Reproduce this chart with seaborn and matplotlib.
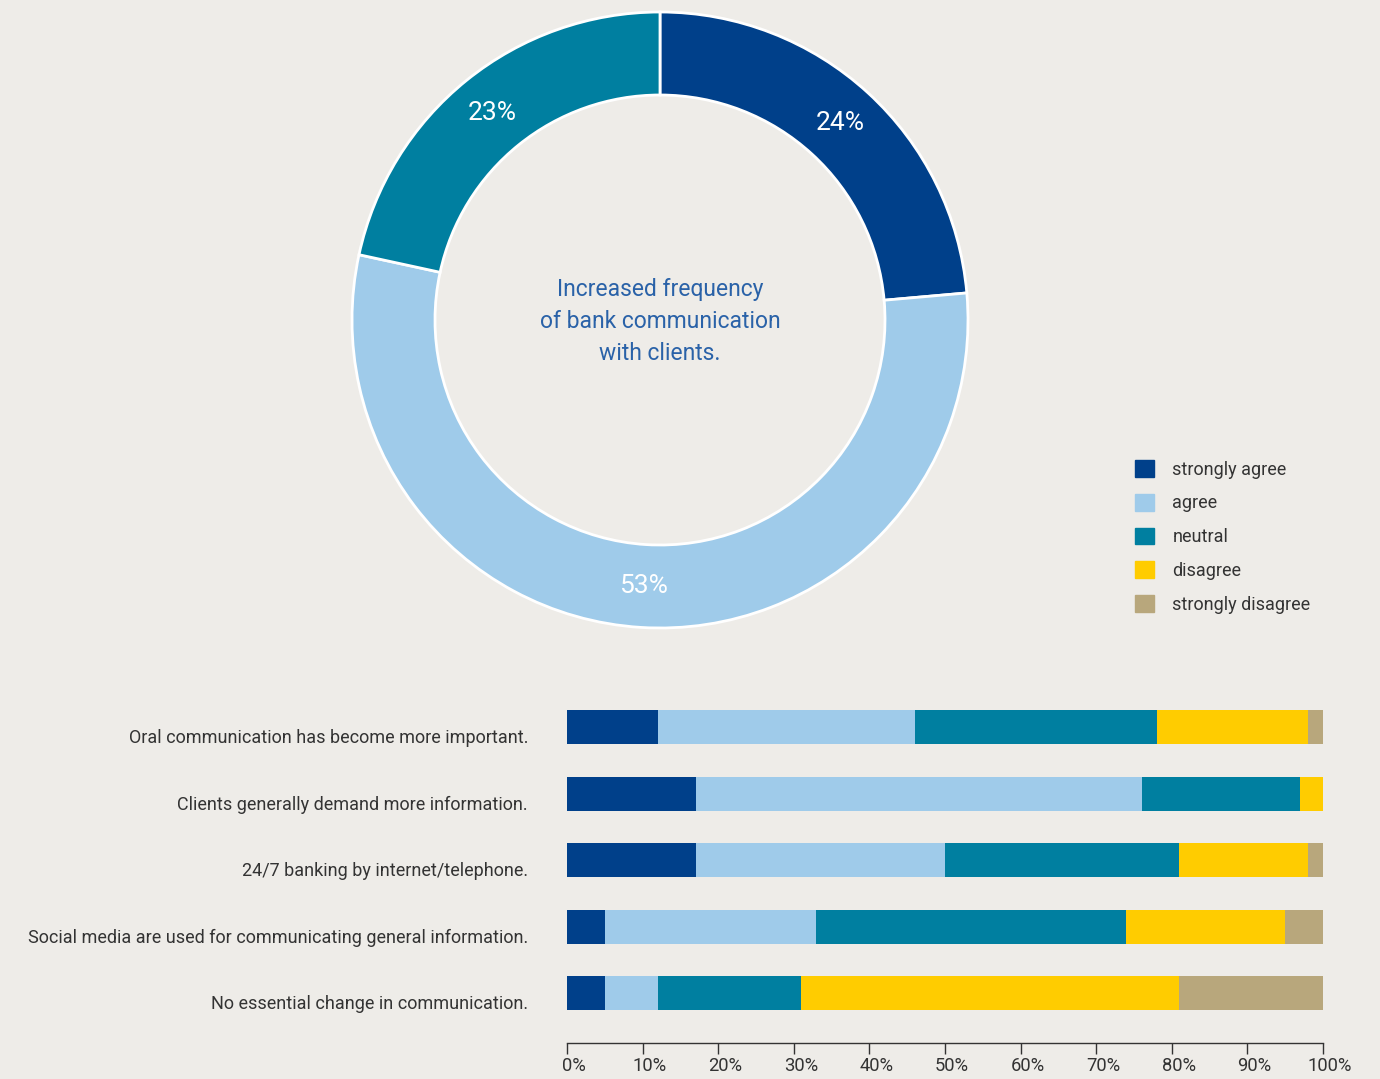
import matplotlib
matplotlib.use("Agg")
import matplotlib.pyplot as plt
import matplotlib.patches as mpatches
import matplotlib.transforms as mtransforms
import seaborn as sns
import pandas as pd
import numpy as np

# ---- data ----
donut_labels = ["strongly agree", "agree", "neutral"]
donut_shares = [23.6, 54.8, 21.6]          # ring geometry as drawn
donut_text = ["24%", "53%", "23%"]         # printed labels
donut_title = "Increased frequency\nof bank communication\nwith clients."

categories = [
    "Oral communication has become more important.",
    "Clients generally demand more information.",
    "24/7 banking by internet/telephone.",
    "Social media are used for communicating general information.",
    "No essential change in communication.",
]
levels = ["strongly agree", "agree", "neutral", "disagree", "strongly disagree"]
strongly_agree = [12, 17, 17, 5, 5]
agree = [34, 59, 33, 28, 7]
neutral = [32, 21, 31, 41, 19]
disagree = [20, 3, 17, 21, 50]
strongly_disagree = [2, 0, 2, 5, 19]
tick_values = [0, 10, 20, 30, 40, 50, 60, 70, 80, 90, 100]

colors = {
    "strongly agree": "#00408a",
    "agree": "#9fcbea",
    "neutral": "#007fa0",
    "disagree": "#ffcc00",
    "strongly disagree": "#b8a77c",
}
BG = "#eeece8"
TEXT = "#333333"

sns.set_theme(style="white")
plt.rcParams["font.family"] = ["Roboto", "DejaVu Sans"]

W, H = 1380, 1079
fig = plt.figure(figsize=(W / 100, H / 100), dpi=100, facecolor=BG)

# ---- donut ----
cx, cy, r = 660, 320, 308
ax_d = fig.add_axes([(cx - r) / W, (H - cy - r) / H, 2 * r / W, 2 * r / H])
ax_d.set_facecolor(BG)
ring = 83 / r
wedges, texts = ax_d.pie(
    donut_shares,
    labels=donut_text,
    colors=[colors[l] for l in donut_labels],
    startangle=90,
    counterclock=False,
    radius=1,
    labeldistance=1 - ring / 2,
    wedgeprops=dict(width=ring, edgecolor="white", linewidth=2),
    textprops=dict(color="white", fontsize=19),
)
for t in texts:
    t.set_horizontalalignment("center")
    t.set_verticalalignment("center")
ax_d.set_xlim(-1, 1)
ax_d.set_ylim(-1, 1)
ax_d.set_aspect("equal")
ax_d.axis("off")
ax_d.text(0, -0.005, donut_title, ha="center", va="center", color="#2a62a8",
          fontsize=16.5, linespacing=1.5)

# ---- stacked bars ----
df = pd.DataFrame({
    "category": categories,
    "strongly agree": strongly_agree,
    "agree": agree,
    "neutral": neutral,
    "disagree": disagree,
    "strongly disagree": strongly_disagree,
})
cum = df[levels].cumsum(axis=1)

ax_b = fig.add_axes([567 / W, (H - 1043) / H, 756 / W, 349 / H])
ax_b.set_facecolor(BG)
for lvl in reversed(levels):
    sns.barplot(data=pd.DataFrame({"category": categories, "value": cum[lvl]}),
                x="value", y="category", orient="h", color=colors[lvl],
                saturation=1, width=0.51, ax=ax_b, linewidth=0)

ax_b.set_xlim(0, 100)
ax_b.set_ylim(4.75, -0.5)
ax_b.set_xlabel("")
ax_b.set_ylabel("")
ax_b.set_xticks(tick_values)
ax_b.set_xticklabels([f"{v}%" for v in tick_values], fontsize=13.2, color=TEXT)
ax_b.tick_params(axis="x", direction="out", length=8, width=1, color="#333333",
                 pad=2, bottom=True)
ax_b.tick_params(axis="y", length=0, pad=28, labelsize=13.0, labelcolor=TEXT)
for s in ["top", "right", "left"]:
    ax_b.spines[s].set_visible(False)
ax_b.spines["bottom"].set_color("#333333")
ax_b.spines["bottom"].set_linewidth(1)

off_y = mtransforms.ScaledTranslation(0, -9 / 100, fig.dpi_scale_trans)
for lab in ax_b.get_yticklabels():
    lab.set_transform(lab.get_transform() + off_y)
off_x = mtransforms.ScaledTranslation(7 / 100, 0, fig.dpi_scale_trans)
for lab in ax_b.get_xticklabels():
    lab.set_transform(lab.get_transform() + off_x)

# ---- legend ----
handles = [mpatches.Patch(color=colors[l], label=l) for l in levels]
fig.legend(handles=handles, loc="upper left",
           bbox_to_anchor=(1119 / W, 1 - 444 / H), frameon=False,
           fontsize=13, handlelength=1.05, handleheight=1.05,
           handletextpad=1.0, labelspacing=0.84, labelcolor=TEXT)

fig.savefig("out.png", dpi=100, facecolor=BG)
